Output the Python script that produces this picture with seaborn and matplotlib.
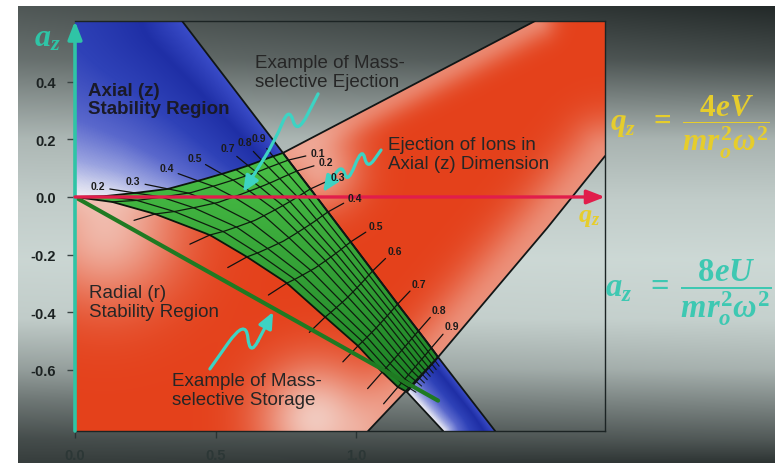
import numpy as np
import matplotlib
matplotlib.use("Agg")
import matplotlib.pyplot as plt
import seaborn as sns
from matplotlib.patches import Polygon, PathPatch
from matplotlib.path import Path
from matplotlib.colors import to_rgb, LinearSegmentedColormap

sns.set_theme(style="white")
plt.rcParams.update({
    "font.family": ["Liberation Sans", "DejaVu Sans"],
    "axes.unicode_minus": False,
    "mathtext.fontset": "custom",
    "mathtext.it": "Liberation Serif:italic:bold",
    "mathtext.rm": "Liberation Serif:bold",
    "mathtext.bf": "Liberation Serif:bold",
})

# ---------------------------------------------------------------- data
beta_levels = [0.0, 0.1, 0.2, 0.3, 0.4, 0.5, 0.6, 0.7, 0.8, 0.9, 1.0]

# beta_r = 0 boundary (upper edge of the doubly stable region), nodes at beta_z levels
radial0_q = [0.000, 0.107, 0.214, 0.331, 0.438, 0.523, 0.573, 0.616, 0.665, 0.705, 0.740]
radial0_a = [0.000, 0.003, 0.014, 0.028, 0.056, 0.080, 0.095, 0.109, 0.127, 0.141, 0.153]

# beta_z = 0 boundary (lower-left edge), nodes at beta_r levels
axial0_q = [0.000, 0.132, 0.285, 0.480, 0.612, 0.754, 0.890, 1.007, 1.093, 1.149, 1.181]
axial0_a = [0.000, -0.017, -0.059, -0.132, -0.208, -0.299, -0.417, -0.517, -0.608, -0.660, -0.677]

# beta_z = 1 boundary (right edge), nodes at beta_r levels
axial1_q = [0.740, 0.759, 0.789, 0.838, 0.900, 0.981, 1.059, 1.148, 1.222, 1.268, 1.292]
axial1_a = [0.153, 0.128, 0.090, 0.028, -0.052, -0.156, -0.257, -0.372, -0.465, -0.524, -0.556]

# the same boundaries continued out to the frame
axial1_top = (0.381, 0.611)
axial1_bottom = (1.495, -0.8125)
axial0_bottom = (1.310, -0.8125)
radial0_top = (1.637, 0.611)
radial1_q = [1.886, 1.680]
radial1_a = [0.142, -0.108]
radial1_bottom = (1.043, -0.8125)

# mass-selective storage scan line
scan_q = [0.0, 1.292]
scan_a = [0.0, -0.707]

grid_levels = [0.1, 0.2, 0.3, 0.4, 0.5, 0.6, 0.7, 0.8, 0.9]
axial_labelled = [0.2, 0.3, 0.4, 0.5, 0.7, 0.8, 0.9]
radial_labelled = [0.1, 0.2, 0.3, 0.4, 0.5, 0.6, 0.7, 0.8, 0.9]
radial_left_stubs = [0.2, 0.3, 0.4, 0.5, 0.6, 0.7, 0.8, 0.9]

a_ticks = [0.4, 0.2, 0.0, -0.2, -0.4, -0.6]
q_ticks = [0.0, 0.5, 1.0]
Q_MAX, A_MIN, A_MAX = 1.886, -0.8125, 0.611

# pointer squiggles (q, a): wave control points, last point is the arrow tip
eject_q = [0.865, 0.790, 0.762, 0.712, 0.598]
eject_a = [0.358, 0.215, 0.315, 0.195, 0.017]
axial_q = [1.089, 1.040, 1.022, 0.970, 0.950, 0.883]
axial_a = [0.163, 0.095, 0.175, 0.045, 0.115, 0.017]
store_q = [0.480, 0.608, 0.622, 0.705]
store_a = [-0.597, -0.420, -0.555, -0.399]

TEAL = "#2fc4a6"
CYAN = "#3dd3c3"
CRIMSON = "#e11d4b"
YELLOW = "#e6cd2c"

# ---------------------------------------------------------------- figure
W, H = 775, 464
fig = plt.figure(figsize=(W / 100, H / 100), dpi=100)
fig.patch.set_facecolor("white")

# backdrop: vertical grey-green shading
bg = fig.add_axes([18 / W, 0, 1 - 18 / W, (H - 7) / H], zorder=0)
yy = np.arange(7, H) + 0.5
sy_l = [7, 60, 100, 140, 200, 260, 320, 370, 400, 440, 464]
v_l = [0.34, 0.44, 0.58, 0.72, 0.80, 0.84, 0.80, 0.62, 0.47, 0.30, 0.24]
v_r = [0.16, 0.30, 0.50, 0.70, 0.80, 0.85, 0.82, 0.70, 0.55, 0.35, 0.20]
vl = np.interp(yy, sy_l, v_l)
vr = np.interp(yy, sy_l, v_r)
xf = np.linspace(0, 1, W - 18)
v = vl[:, None] * (1 - xf[None, :]) + vr[:, None] * xf[None, :]
bg_img = np.stack([v * 0.97 - 0.02, v, v * 0.985], axis=-1).clip(0, 1)
bg.imshow(bg_img, aspect="auto", interpolation="bilinear")
bg.axis("off")

ax = fig.add_axes([75 / W, (H - 432) / H, 530 / W, 410 / H], zorder=1)
ax.set_facecolor("none")
ax.set_xlim(0, Q_MAX)
ax.set_ylim(A_MIN, A_MAX)
SX = 530 / Q_MAX
SY = 410 / (A_MAX - A_MIN)

lv = np.array(beta_levels)
T = np.column_stack([radial0_q, radial0_a])
L = np.column_stack([axial0_q, axial0_a])
R = np.column_stack([axial1_q, axial1_a])
P0, P1, P2, P3 = T[0], T[-1], R[-1], L[-1]

segT = np.hypot(*np.diff(T, axis=0).T)
sT = np.concatenate([[0], np.cumsum(segT)]) / segT.sum()


def upper(s):
    return np.column_stack([np.interp(s, sT, T[:, 0]), np.interp(s, sT, T[:, 1])])


def edge(E, vv):
    return np.column_stack([np.interp(vv, lv, E[:, 0]), np.interp(vv, lv, E[:, 1])])


def surface(vv, s):
    """Point of the stable region for beta_r fraction vv and across-parameter s."""
    s = np.asarray(s, float)
    vv = np.broadcast_to(np.asarray(vv, float), s.shape)
    chord = (1 - s)[:, None] * P0 + s[:, None] * P1
    bulge = upper(s) - chord
    return ((1 - s)[:, None] * edge(L, vv) + s[:, None] * edge(R, vv)
            + ((1 - vv) ** 2)[:, None] * bulge)


n = 80
ss = np.linspace(0, 1, n)
green_outline = np.vstack([surface(0.0, ss), surface(ss, np.ones(n)),
                           surface(1.0, ss[::-1]), surface(ss[::-1], np.zeros(n))])

blue_poly = np.vstack([[0, A_MAX], axial1_top, R, axial1_bottom, axial0_bottom, L[::-1]])
red_poly = np.vstack([T, radial0_top, [Q_MAX, A_MAX],
                      np.column_stack([radial1_q, radial1_a]), P2, radial1_bottom, [0, A_MIN]])

# ---------------------------------------------------------------- shaded fills
nx, ny = 530, 410
qg = (np.arange(nx) + 0.5) / nx * Q_MAX
ag = A_MAX - (np.arange(ny) + 0.5) / ny * (A_MAX - A_MIN)
X, Y = np.meshgrid(qg * SX, ag * SY)


def dist_to_polyline(pts):
    pts = np.asarray(pts, float) * [SX, SY]
    d = np.full(X.shape, np.inf)
    for (x0, y0), (x1, y1) in zip(pts[:-1], pts[1:]):
        dx, dy = x1 - x0, y1 - y0
        t = np.clip(((X - x0) * dx + (Y - y0) * dy) / (dx * dx + dy * dy), 0, 1)
        d = np.minimum(d, np.hypot(X - (x0 + t * dx), Y - (y0 + t * dy)))
    return d


extent = (0, Q_MAX, A_MIN, A_MAX)


def clipped_image(rgb, poly, z):
    patch = Polygon(poly, closed=True, facecolor="none", edgecolor="none")
    ax.add_patch(patch)
    im = ax.imshow(rgb, extent=extent, aspect="auto", origin="upper",
                   interpolation="bilinear", zorder=z)
    im.set_clip_path(patch)


# radial stability band
d0r = dist_to_polyline(np.vstack([T, radial0_top]))
d1r = dist_to_polyline(np.vstack([np.column_stack([radial1_q, radial1_a]), P2, radial1_bottom]))
keep = (1 - 0.5 * np.exp(-(d1r / 38) ** 2)) * (1 - 0.45 * np.exp(-(d0r / 20) ** 2))
for (bq, ba), sig, amp in [((0.872, 0.097), 40, 0.6), ((0.107, -0.104), 75, 0.75),
                           ((0.854, -0.771), 55, 0.85)]:
    r2 = (X - bq * SX) ** 2 + (Y - ba * SY) ** 2
    keep = keep * (1 - amp * np.exp(-r2 / sig ** 2))
light = 1 - keep
red_rgb = (np.array(to_rgb("#e4411b"))[None, None, :] * (1 - light[..., None])
           + np.array(to_rgb("#f4dfd8"))[None, None, :] * light[..., None])
clipped_image(red_rgb, red_poly, 1)

# axial stability band
d1b = dist_to_polyline(np.vstack([axial1_top, R, axial1_bottom]))
d0b = dist_to_polyline(np.vstack([L, axial0_bottom]))
wb = d1b / (d1b + d0b + 1e-9)
blue_cmap = LinearSegmentedColormap.from_list(
    "axial", [(0, "#3a4cc8"), (0.18, "#1f2fa6"), (0.42, "#2f42b8"), (0.65, "#5a68cc"),
              (0.82, "#9aa3e0"), (0.93, "#d4d7ee"), (1.0, "#f2eff4")])
clipped_image(blue_cmap(wb)[..., :3], blue_poly, 1.1)

# doubly stable region
y_img = 22 + (A_MAX - ag) * SY
tg = np.clip((y_img - 150) / 245, 0, 1)[:, None, None] * np.ones((1, nx, 1))
green_rgb = (np.array(to_rgb("#4cc248"))[None, None, :] * (1 - tg)
             + np.array(to_rgb("#1b7f24"))[None, None, :] * tg)
clipped_image(green_rgb, green_outline, 2)

# ---------------------------------------------------------------- iso-beta grid
def to_px(p):
    return ax.transData.transform(p)


def from_px(p):
    return ax.transData.inverted().transform(p)


def stub(end, inner, length):
    e, i = to_px(end), to_px(inner)
    d = (e - i) / np.hypot(*(e - i))
    return e, d, from_px(e + d * length)


for u in grid_levels:
    k = beta_levels.index(u)
    vv = np.linspace(0, 1, n)
    pts = surface(vv, (1 - vv) * sT[k] + vv * u)
    ax.plot(pts[:, 0], pts[:, 1], color="#0e1d0e", lw=0.9, zorder=3)
    # short tick into the band below
    _, _, tip = stub(pts[-1], pts[-4], 7)
    ax.plot([pts[-1, 0], tip[0]], [pts[-1, 1], tip[1]], color="#101820", lw=0.8, zorder=3)
    if u in axial_labelled:
        dist = 42 - 22 * u
        e, d, tip = stub(pts[0], pts[3], dist - 12)
        ax.plot([pts[0, 0], tip[0]], [pts[0, 1], tip[1]], color="#111111", lw=0.9, zorder=3)
        lab = from_px(e + d * dist + np.array([0, 1]))
        ax.text(lab[0], lab[1], f"{u:.1f}", fontsize=7.5, fontweight="bold",
                color="#1b1b1b", ha="center", va="center", zorder=8)

for vlev in grid_levels:
    pts = surface(vlev, ss)
    ax.plot(pts[:, 0], pts[:, 1], color="#0e1d0e", lw=0.9, zorder=3)
    if vlev in radial_labelled:
        e, d, tip = stub(pts[-1], pts[0], 18)
        ax.plot([pts[-1, 0], tip[0]], [pts[-1, 1], tip[1]], color="#111111", lw=0.9, zorder=3)
        lab = from_px(e + d * 27 + np.array([3, 1]))
        ax.text(lab[0], lab[1], f"{vlev:.1f}", fontsize=7.5, fontweight="bold",
                color="#1b1b1b", ha="center", va="center", zorder=8)
    if vlev in radial_left_stubs:
        e, d, tip = stub(pts[0], pts[-1], 22)
        ax.plot([pts[0, 0], tip[0]], [pts[0, 1], tip[1]], color="#111111", lw=0.9, zorder=3)

# region boundaries
ax.plot(green_outline[:, 0], green_outline[:, 1], color="#0c160c", lw=1.3, zorder=4)
for line in [np.vstack([axial1_top, R, axial1_bottom]),
             np.vstack([P1, radial0_top]),
             np.vstack([np.column_stack([radial1_q, radial1_a]), P2, radial1_bottom]),
             np.vstack([P3, axial0_bottom])]:
    ax.plot(line[:, 0], line[:, 1], color="#111616", lw=1.3, zorder=4)

# storage scan line
sns.lineplot(x=scan_q, y=scan_a, ax=ax, color="#1f7a22", lw=3, zorder=5, sort=False)

# ---------------------------------------------------------------- axes arrows
ax.annotate("", xy=(0, A_MAX), xytext=(0, A_MIN),
            arrowprops=dict(arrowstyle="-|>,head_length=0.9,head_width=0.35", color=TEAL,
                            lw=2.6, shrinkA=0, shrinkB=0), annotation_clip=False, zorder=7)
ax.annotate("", xy=(Q_MAX, 0), xytext=(0, 0),
            arrowprops=dict(arrowstyle="-|>,head_length=0.9,head_width=0.35", color=CRIMSON,
                            lw=2.4, shrinkA=0, shrinkB=0), annotation_clip=False, zorder=7)


# pointer squiggles: smooth wave through midpoints, straight arrow at the end
def squiggle(q, a):
    P = np.column_stack([q, a])
    A = P[-2] + 0.35 * (P[-1] - P[-2])
    verts = [P[0], (P[0] + P[1]) / 2]
    codes = [Path.MOVETO, Path.LINETO]
    for i in range(1, len(P) - 2):
        verts += [P[i], (P[i] + P[i + 1]) / 2]
        codes += [Path.CURVE3, Path.CURVE3]
    verts += [P[-2], A]
    codes += [Path.CURVE3, Path.CURVE3]
    ax.add_patch(PathPatch(Path(verts, codes), fill=False, edgecolor=CYAN, lw=2.3,
                           capstyle="round", joinstyle="round", zorder=7))
    ax.annotate("", xy=P[-1], xytext=A,
                arrowprops=dict(arrowstyle="-|>,head_length=0.8,head_width=0.35", color=CYAN,
                                lw=2.3, shrinkA=0, shrinkB=0), zorder=7)


for sq, sa in [(eject_q, eject_a), (axial_q, axial_a), (store_q, store_a)]:
    squiggle(sq, sa)

# ---------------------------------------------------------------- frame and ticks
for side in ["top", "right", "bottom"]:
    ax.spines[side].set_color("#1c2424")
    ax.spines[side].set_linewidth(1.0)
ax.spines["left"].set_visible(False)
ax.set_yticks(a_ticks)
ax.set_yticklabels([f"{t:.1f}" for t in a_ticks])
ax.set_xticks(q_ticks)
ax.set_xticklabels([f"{t:.1f}" for t in q_ticks])
ax.tick_params(axis="y", direction="out", length=6, width=1, color="#3a4444",
               pad=8, labelsize=10.5, labelcolor="#1c2222")
ax.tick_params(axis="x", direction="out", length=5, width=1, color="#2a3434",
               pad=7, labelsize=10.5, labelcolor="#2c3736")
ax.tick_params(left=True, bottom=True)
for lab in ax.get_xticklabels() + ax.get_yticklabels():
    lab.set_fontweight("bold")
ax.grid(False)
ax.set_xlim(0, Q_MAX)
ax.set_ylim(A_MIN, A_MAX)

# ---------------------------------------------------------------- text
ax.text(0.046, 0.399, "Axial (z)\nStability Region", fontsize=13.5, fontweight="bold",
        color="#1a1a28", ha="left", va="top", linespacing=1.05, zorder=8)
ax.text(0.641, 0.497, "Example of Mass-\nselective Ejection", fontsize=13.5,
        color="#262626", ha="left", va="top", linespacing=1.15, zorder=8)
ax.text(1.114, 0.212, "Ejection of Ions in\nAxial (z) Dimension", fontsize=13.5,
        color="#262626", ha="left", va="top", linespacing=1.15, zorder=8)
ax.text(0.050, -0.302, "Radial (r)\nStability Region", fontsize=13.5,
        color="#262626", ha="left", va="top", linespacing=1.15, zorder=8)
ax.text(0.345, -0.608, "Example of Mass-\nselective Storage", fontsize=13.5,
        color="#262626", ha="left", va="top", linespacing=1.15, zorder=8)

ax.text(-0.100, 0.552, r"$a_z$", fontsize=23, color=TEAL, ha="center", va="center",
        clip_on=False, zorder=8)
ax.text(1.828, -0.066, r"$q_z$", fontsize=19, color=YELLOW, ha="center", va="center",
        clip_on=False, zorder=8)
ax.text(1.904, 0.245, r"$q_z\;\;=\;\dfrac{4eV}{mr_o^2\omega^2}$", fontsize=22.5, color=YELLOW,
        ha="left", va="center", clip_on=False, zorder=8)
ax.text(1.886, -0.330, r"$a_z\;\;=\;\dfrac{8eU}{mr_o^2\omega^2}$", fontsize=23.5,
        color="#3ec8b2", ha="left", va="center", clip_on=False, zorder=8)

fig.savefig("out.png", dpi=100)
